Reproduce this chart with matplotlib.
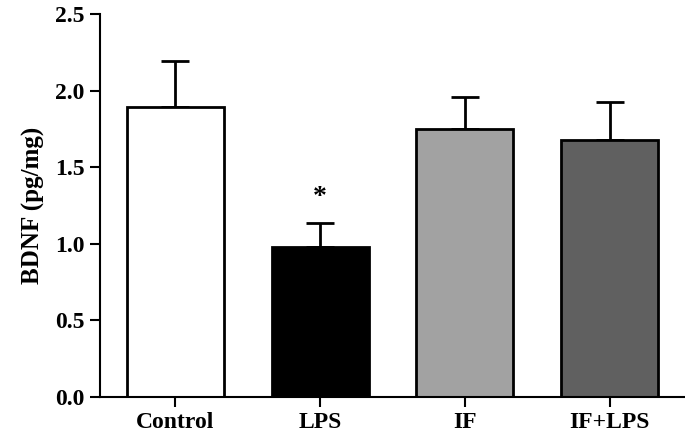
import matplotlib.pyplot as plt
plt.switch_backend("agg")

# data
groups = ["Control", "LPS", "IF", "IF+LPS"]
means = [1.89, 0.98, 1.75, 1.675]
sems = [0.30, 0.155, 0.21, 0.25]
colors = ["#ffffff", "#000000", "#a2a2a2", "#606060"]
stars = ["", "*", "", ""]

plt.rcParams["font.family"] = ["Liberation Serif", "DejaVu Serif"]
plt.rcParams["font.weight"] = "bold"

fig = plt.figure(figsize=(6.85, 4.37), dpi=100)
ax = fig.add_axes([0.146, 0.0915, 0.854, 0.8765])

x = list(range(len(groups)))
ax.bar(x, means, width=0.67, color=colors, edgecolor="black", linewidth=2, zorder=2)
ax.errorbar(x, means, yerr=[[0] * len(sems), sems], fmt="none", ecolor="black",
            elinewidth=2, capsize=10, capthick=2, zorder=1)

for xi, m, s, st in zip(x, means, sems, stars):
    if st:
        ax.text(xi, m + s + 0.17, st, ha="center", va="center", fontsize=20, fontweight="bold")

ax.set_xlim(-0.52, 3.52)
ax.set_ylim(0, 2.5)
ax.set_yticks([0, 0.5, 1.0, 1.5, 2.0, 2.5])
ax.set_yticklabels(["0.0", "0.5", "1.0", "1.5", "2.0", "2.5"])
ax.set_xticks(x)
ax.set_xticklabels(groups)
ax.set_ylabel("BDNF (pg/mg)", fontsize=18, fontweight="bold", labelpad=7)

for side in ["top", "right"]:
    ax.spines[side].set_visible(False)
for side in ["left", "bottom"]:
    ax.spines[side].set_linewidth(1.5)
ax.tick_params(axis="both", direction="out", length=7, width=1.5, labelsize=17, pad=4)

plt.savefig("out.png", dpi=100)
